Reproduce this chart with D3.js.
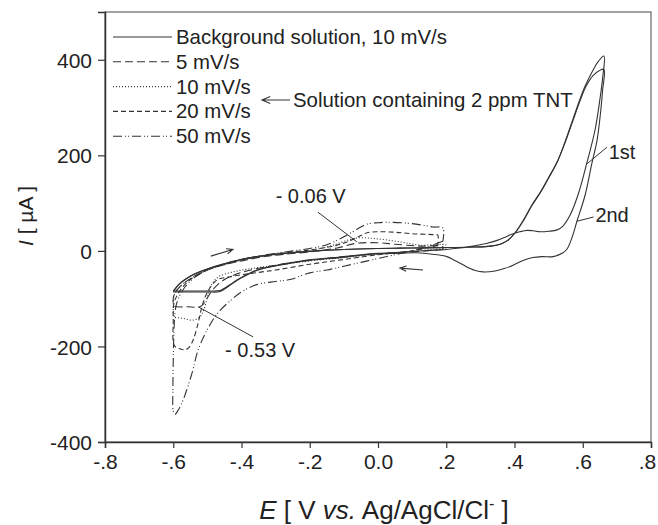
<!DOCTYPE html>
<html>
<head>
<meta charset="utf-8">
<script src="https://cdn.jsdelivr.net/npm/d3@7"></script>
<style>
  body { margin: 0; background: #fff; }
  svg text { font-family: "Liberation Sans", Arial, sans-serif; fill: #222; }
</style>
</head>
<body>
<div id="chart"></div>
<script>
// axis ticks
const xTicks = [-0.8, -0.6, -0.4, -0.2, 0.0, 0.2, 0.4, 0.6, 0.8];
const xTickLabels = ['-.8', '-.6', '-.4', '-.2', '0.0', '.2', '.4', '.6', '.8'];
const yTicks = [-400, -200, 0, 200, 400];

// background solution, 10 mV/s: 1st and 2nd cycle  [E (V), I (uA)]
const bg1 = [[-0.600,-84],[-0.595,-80],[-0.585,-71],[-0.571,-63],[-0.550,-53],[-0.530,-46],[-0.500,-38],[-0.484,-34],[-0.450,-27],[-0.425,-22],[-0.390,-16],[-0.355,-12],[-0.300,-7],[-0.258,-4],[-0.200,-1],[-0.161,1],[-0.100,3],[0.000,5],[0.100,6],[0.200,7],[0.280,8],[0.330,10],[0.358,14],[0.380,22],[0.402,38],[0.425,62],[0.451,95],[0.475,121],[0.498,150],[0.525,186],[0.548,228],[0.571,275],[0.592,318],[0.607,345],[0.630,378],[0.645,396],[0.662,408],
  [0.658,360],[0.650,316],[0.636,253],[0.612,184],[0.586,117],[0.563,75],[0.542,52],[0.525,44],[0.500,41],[0.475,40],[0.455,42],[0.437,43],[0.415,40],[0.396,36],[0.370,28],[0.349,22],[0.320,16],[0.299,13],[0.270,9],[0.240,6],[0.200,3],[0.150,1],[0.100,-1],[0.064,-3],[0.000,-5],[-0.050,-8],[-0.111,-13],[-0.160,-16],[-0.208,-19],[-0.250,-24],[-0.296,-30],[-0.330,-35],[-0.355,-40],[-0.380,-48],[-0.404,-57],[-0.420,-64],[-0.434,-71],[-0.450,-78],[-0.463,-83],[-0.500,-84],[-0.550,-84],[-0.600,-84]];
const bg2 = [[-0.600,-85],[-0.594,-79],[-0.583,-70],[-0.568,-61],[-0.548,-52],[-0.527,-45],[-0.500,-38],[-0.450,-27],[-0.400,-18],[-0.355,-12],[-0.300,-7],[-0.200,-1],[-0.100,3],[0.000,5],[0.100,6],[0.200,7],[0.280,8],[0.330,10],[0.358,14],[0.380,22],[0.402,38],[0.425,63],[0.451,96],[0.475,122],[0.498,151],[0.525,186],[0.548,226],[0.571,272],[0.592,314],[0.610,345],[0.630,367],[0.648,377],[0.662,380],
  [0.658,335],[0.653,295],[0.642,232],[0.627,184],[0.607,117],[0.583,62],[0.569,29],[0.555,5],[0.542,-4],[0.513,-12],[0.480,-12],[0.454,-14],[0.425,-20],[0.396,-30],[0.370,-37],[0.343,-42],[0.308,-44],[0.285,-41],[0.270,-37],[0.249,-29],[0.225,-20],[0.202,-12],[0.160,-7],[0.114,-4],[0.064,-5],[0.000,-6],[-0.050,-9],[-0.111,-14],[-0.160,-17],[-0.208,-20],[-0.250,-25],[-0.296,-31],[-0.355,-41],[-0.404,-58],[-0.434,-72],[-0.463,-85],[-0.500,-86],[-0.600,-86]];

// solution containing 2 ppm TNT
const tnt5 = [[0.190,3],[0.100,-2],[0.000,-6],[-0.100,-12],[-0.200,-20],[-0.300,-30],[-0.400,-45],[-0.450,-60],[-0.480,-78],[-0.500,-98],[-0.510,-110],[-0.522,-117],[-0.560,-117],[-0.589,-117],[-0.598,-115],
  [-0.600,-100],[-0.595,-88],[-0.580,-75],[-0.550,-58],[-0.500,-40],[-0.450,-29],[-0.400,-21],[-0.350,-14],[-0.300,-9],[-0.200,-2],[-0.120,6],[-0.062,16],[0.000,17],[0.050,14],[0.120,10],[0.190,9],[0.190,3]];
const tnt10 = [[0.200,6],[0.100,-1],[0.000,-7],[-0.100,-14],[-0.200,-21],[-0.300,-30],[-0.380,-38],[-0.430,-45],[-0.469,-55],[-0.492,-76],[-0.501,-100],[-0.513,-128],[-0.525,-140],[-0.545,-145],[-0.566,-142],[-0.585,-140],[-0.598,-138],
  [-0.600,-120],[-0.598,-95],[-0.590,-82],[-0.570,-68],[-0.540,-54],[-0.500,-40],[-0.450,-29],[-0.400,-20],[-0.350,-13],[-0.300,-8],[-0.200,0],[-0.132,12],[-0.062,27],[0.000,25],[0.064,19],[0.123,12],[0.200,12],[0.200,6]];
const tnt20 = [[0.175,12],[0.100,0],[0.000,-8],[-0.100,-18],[-0.200,-28],[-0.300,-40],[-0.350,-45],[-0.400,-50],[-0.440,-55],[-0.472,-61],[-0.501,-88],[-0.516,-117],[-0.527,-151],[-0.542,-187],[-0.555,-203],[-0.566,-207],[-0.580,-205],[-0.597,-198],
  [-0.600,-150],[-0.598,-110],[-0.590,-95],[-0.575,-78],[-0.550,-60],[-0.500,-40],[-0.450,-28],[-0.400,-19],[-0.350,-12],[-0.300,-6],[-0.200,2],[-0.120,12],[-0.080,22],[-0.050,32],[-0.032,38],[0.000,40],[0.050,39],[0.100,36],[0.160,34],[0.175,33],[0.175,12]];
const tnt50 = [[0.190,20],[0.150,10],[0.100,0],[0.050,-8],[0.000,-16],[-0.050,-24],[-0.100,-32],[-0.150,-40],[-0.200,-46],[-0.258,-60],[-0.300,-64],[-0.352,-70],[-0.396,-84],[-0.434,-105],[-0.472,-132],[-0.501,-166],[-0.527,-207],[-0.545,-256],[-0.571,-312],[-0.585,-333],[-0.595,-342],
  [-0.600,-335],[-0.601,-290],[-0.600,-230],[-0.598,-170],[-0.595,-130],[-0.590,-110],[-0.580,-92],[-0.565,-75],[-0.540,-57],[-0.500,-40],[-0.450,-27],[-0.400,-18],[-0.350,-11],[-0.300,-5],[-0.250,0],[-0.200,5],[-0.150,13],[-0.120,22],[-0.091,33],[-0.060,46],[-0.032,56],[0.000,59],[0.026,60],[0.085,58],[0.130,54],[0.161,50],[0.190,48],[0.190,20]];

const legendLabels = ['Background solution, 10 mV/s', '5 mV/s', '10 mV/s', '20 mV/s', '50 mV/s'];
const dashes = [null, '8,4', '1,2', '5,3', '9,3,1,2,1,3'];
const series = [[bg1, bg2], [tnt5], [tnt10], [tnt20], [tnt50]];

const W = 658, H = 525;
const margin = { top: 12, right: 7, bottom: 83, left: 105 };
const width = W - margin.left - margin.right;
const height = H - margin.top - margin.bottom;

const svg = d3.select('#chart').append('svg')
  .attr('width', W).attr('height', H);
const g = svg.append('g').attr('transform', `translate(${margin.left},${margin.top})`);

const x = d3.scaleLinear().domain([-0.8, 0.8]).range([0, width]);
const y = d3.scaleLinear().domain([-400, 500]).range([height, 0]);

// frame
g.append('rect').attr('width', width).attr('height', height)
  .attr('fill', 'none').attr('stroke', '#666').attr('stroke-width', 1.2);

// axes
const xAxis = g.append('g').attr('transform', `translate(0,${height})`)
  .call(d3.axisBottom(x).tickValues(xTicks).tickSize(6).tickPadding(6)
    .tickFormat((d, i) => xTickLabels[i]));
const yAxis = g.append('g')
  .call(d3.axisLeft(y).tickValues(yTicks).tickSize(7).tickPadding(6)
    .tickFormat(d => String(d)));
[xAxis, yAxis].forEach(a => {
  a.selectAll('.domain').attr('stroke', '#333').attr('stroke-width', 1.5);
  a.selectAll('.tick line').attr('stroke', '#333').attr('stroke-width', 1.2);
  a.selectAll('text').attr('font-size', '21px').attr('fill', '#222')
    .style('font-family', '"Liberation Sans", Arial, sans-serif');
});
yAxis.selectAll('text').attr('dy', '0.36em');
xAxis.selectAll('.tick:last-of-type text').attr('dx', -4);

// axis titles
const xt = svg.append('text').attr('x', 384).attr('y', 519)
  .attr('text-anchor', 'middle').attr('font-size', '26px');
xt.append('tspan').attr('font-style', 'italic').text('E');
xt.append('tspan').text(' [ V ');
xt.append('tspan').attr('font-style', 'italic').text('vs.');
xt.append('tspan').text(' Ag/AgCl/Cl');
xt.append('tspan').attr('dy', -10).attr('font-size', '16px').text('-');
xt.append('tspan').attr('dy', 10).text(' ]');

const yt = svg.append('text').attr('transform', 'translate(33,216) rotate(-90)')
  .attr('text-anchor', 'middle').attr('font-size', '21px');
yt.append('tspan').attr('font-style', 'italic').text('I');
yt.append('tspan').text(' [ µA ]');

// curves
const line = d3.line().x(d => x(d[0])).y(d => y(d[1])).curve(d3.curveCatmullRom.alpha(0.5));
series.forEach((list, i) => {
  list.forEach(data => {
    g.append('path').datum(data)
      .attr('fill', 'none').attr('stroke', '#333').attr('stroke-width', 1.1)
      .attr('stroke-dasharray', dashes[i])
      .attr('d', line);
  });
});

// legend
const leg = svg.append('g');
legendLabels.forEach((t, i) => {
  const ly = 37 + i * 24.8;
  leg.append('line').attr('x1', 113).attr('x2', 172).attr('y1', ly).attr('y2', ly)
    .attr('stroke', '#333').attr('stroke-width', 1.1).attr('stroke-dasharray', dashes[i]);
  leg.append('text').attr('x', 176).attr('y', ly + 7).attr('font-size', '20.4px').text(t);
});

function arrow(x1, y1, x2, y2, head) {
  const a = Math.atan2(y2 - y1, x2 - x1);
  const h = head || 7;
  const p = d3.path();
  p.moveTo(x1, y1); p.lineTo(x2, y2);
  p.moveTo(x2 - h * Math.cos(a - 0.4), y2 - h * Math.sin(a - 0.4));
  p.lineTo(x2, y2);
  p.lineTo(x2 - h * Math.cos(a + 0.4), y2 - h * Math.sin(a + 0.4));
  svg.append('path').attr('d', p.toString()).attr('fill', 'none')
    .attr('stroke', '#333').attr('stroke-width', 1.1);
}
arrow(290, 100, 262, 100, 9);
svg.append('text').attr('x', 293).attr('y', 107).attr('font-size', '20.4px')
  .text('Solution containing 2 ppm TNT');

// scan direction arrows (data coords)
arrow(margin.left + x(-0.49), margin.top + y(-11), margin.left + x(-0.425), margin.top + y(3), 7);
arrow(margin.left + x(0.132), margin.top + y(-40), margin.left + x(0.064), margin.top + y(-36), 7);

// annotations
const notes = [
  { text: '- 0.06 V', tx: -0.30, ty: 100, from: [-0.176, 81], to: [-0.062, 19] },
  { text: '- 0.53 V', tx: -0.448, ty: -222, from: [-0.366, -180], to: [-0.527, -117] },
  { text: '1st', tx: 0.676, ty: 192, from: [0.671, 217], to: [0.612, 182] },
  { text: '2nd', tx: 0.637, ty: 60, from: [0.632, 71], to: [0.583, 62] }
];
notes.forEach(n => {
  g.append('line')
    .attr('x1', x(n.from[0])).attr('y1', y(n.from[1]))
    .attr('x2', x(n.to[0])).attr('y2', y(n.to[1]))
    .attr('stroke', '#333').attr('stroke-width', 1);
  g.append('text').attr('x', x(n.tx)).attr('y', y(n.ty))
    .attr('font-size', '20px').text(n.text);
});
</script>
</body>
</html>
